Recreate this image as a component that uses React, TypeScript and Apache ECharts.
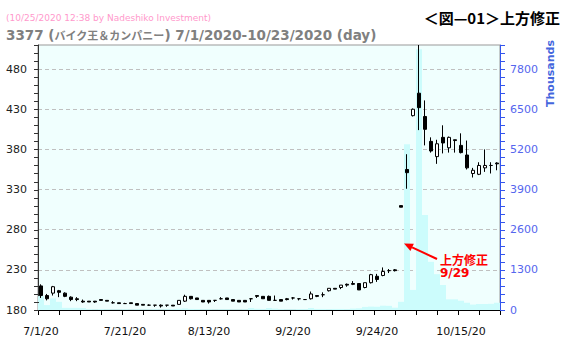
import React, { useEffect, useRef } from 'react';
import * as echarts from 'echarts';

const dates = [
  '7/1/20','7/2/20','7/3/20','7/6/20','7/7/20','7/8/20','7/9/20','7/10/20','7/13/20','7/14/20',
  '7/15/20','7/16/20','7/17/20','7/20/20','7/21/20','7/22/20','7/27/20','7/28/20','7/29/20','7/30/20',
  '7/31/20','8/3/20','8/4/20','8/5/20','8/6/20','8/7/20','8/11/20','8/12/20','8/13/20','8/14/20',
  '8/17/20','8/18/20','8/19/20','8/20/20','8/21/20','8/24/20','8/25/20','8/26/20','8/27/20','8/28/20',
  '8/31/20','9/1/20','9/2/20','9/3/20','9/4/20','9/7/20','9/8/20','9/9/20','9/10/20','9/11/20',
  '9/14/20','9/15/20','9/16/20','9/17/20','9/18/20','9/23/20','9/24/20','9/25/20','9/28/20','9/29/20',
  '9/30/20','10/2/20','10/5/20','10/6/20','10/7/20','10/8/20','10/9/20','10/12/20','10/13/20','10/14/20',
  '10/15/20','10/16/20','10/19/20','10/20/20','10/21/20','10/22/20','10/23/20'
];

const opens = [
  210,198,201,204,201,196,194,191,191,191,
  193,192,189,189,188,189,188,187,186,186,
  186,186,186,187,191,197,195,192,192,192,
  194,195,193,192,192,194,198,197,197,192,
  193,194,195,194,193,194,198,199,204,207,
  208,212,213,213,208,214,222,223,229,230,
  310,355,422,450,421,390,371,395,382,392,
  385,373,350,349,357,360,363
];
const closes = [
  198,194,209,202,197,193,193,190,190,190,
  192,191,189,188,188,188,186,186,186,186,
  185,186,185,192,197,194,193,190,190,192,
  194,193,191,190,190,194,197,194,192,192,
  191,193,195,194,193,200,197,199,207,206,
  211,211,212,205,214,224,218,228,229,229,
  308,351,430,432,405,378,387,388,395,391,
  376,357,354,360,360,360,362
];
const lows = [
  195,192,198,196,196,191,191,189,190,189,
  192,191,188,188,188,188,186,186,185,184,
  183,184,185,187,190,193,193,190,188,190,
  193,193,191,190,190,190,195,194,192,192,
  191,192,193,192,193,193,196,196,203,206,
  206,209,211,205,207,213,215,222,226,228,
  308,331,421,404,385,376,362,375,376,376,
  375,355,345,348,352,350,354
];
const highs = [
  212,200,210,205,202,197,196,193,191,191,
  193,192,191,189,189,189,188,187,187,186,
  187,186,186,192,199,197,195,192,192,192,
  196,195,193,192,192,194,198,197,198,198,
  193,195,196,194,193,203,198,202,207,207,
  211,213,216,213,214,225,225,233,231,231,
  310,374,431,510,441,395,392,410,396,392,
  400,391,357,364,380,364,364
];
// volume in thousands of shares
const volumes = [
  450,160,375,265,70,70,70,65,30,25,
  30,25,20,20,25,20,25,20,20,25,
  20,25,30,40,50,35,30,25,25,20,
  25,25,20,20,25,65,40,30,65,45,
  30,25,25,30,30,65,35,35,30,35,
  35,30,45,55,100,110,105,140,135,75,
  265,5370,650,8440,3075,1560,1160,810,345,345,
  300,235,175,195,195,200,235
];

const PRICE_MIN = 180;
const PRICE_MAX = 510;
const PRICE_TICK = 10;
const PRICE_LABEL_STEP = 50;
const VOL_MAX = 8580;
const VOL_TICK = 260;
const VOL_LABEL_STEP = 1300;
const X_TICK_SLOTS = 3.5;

const W = 566;
const H = 349;
const G_LEFT = 38;
const G_RIGHT = 66;
const G_TOP = 45;
const G_BOTTOM = 39;

const titleText = '3377 (';
const titleName = 'バイク王＆カンパニー';
const titleRest = ') 7/1/2020-10/23/2020 (day)';
const subtitleText = '(10/25/2020 12:38 by Nadeshiko Investment)';
const figureTitle = '＜図—01＞上方修正';
const noteText = '上方修正';
const noteDate = '9/29';

export default function App() {
  const ref = useRef<HTMLDivElement>(null);
  useEffect(() => {
    const chart = echarts.init(ref.current!, null, { renderer: 'svg' });
    const font = "'DejaVu Sans', 'Noto Sans CJK JP', sans-serif";
    const cjk = "'Noto Sans CJK JP', sans-serif";
    const candleData = dates.map((_, i) => [opens[i], closes[i], lows[i], highs[i]]);

    const tip = [404, 243.5];
    const tail = [437, 259];
    const dx = tail[0] - tip[0], dy = tail[1] - tip[1];
    const len = Math.sqrt(dx * dx + dy * dy);
    const ux = dx / len, uy = dy / len;
    const bx = tip[0] + ux * 9, by = tip[1] + uy * 9;
    const nx = -uy, ny = ux;

    // axis tick marks (decoration) from the grid geometry and the axis scales
    const plotW = W - G_LEFT - G_RIGHT;
    const plotH = H - G_TOP - G_BOTTOM;
    const xLeft = G_LEFT;
    const xRight = W - G_RIGHT;
    const yBottom = H - G_BOTTOM;
    const band = plotW / dates.length;
    const priceToY = (v: number) => yBottom - ((v - PRICE_MIN) / (PRICE_MAX - PRICE_MIN)) * plotH;
    const volToY = (v: number) => yBottom - (v / VOL_MAX) * plotH;
    const ticks: any[] = [];
    for (let s = 0; s <= dates.length + 1e-9; s += X_TICK_SLOTS) {
      const px = Math.round(xLeft + s * band);
      ticks.push({
        type: 'rect', z: 20,
        shape: { x: px, y: yBottom, width: 1, height: 5 },
        style: { fill: '#000000' },
      });
    }
    for (let v = PRICE_MIN; v <= PRICE_MAX; v += PRICE_TICK) {
      const py = Math.round(priceToY(v));
      ticks.push({
        type: 'rect', z: 20,
        shape: { x: xLeft - 4, y: py, width: 5, height: 1 },
        style: { fill: '#333333' },
      });
    }
    for (let v = 0; v <= VOL_MAX; v += VOL_TICK) {
      const py = Math.round(volToY(v));
      ticks.push({
        type: 'rect', z: 20,
        shape: { x: xRight, y: py, width: 5, height: 1 },
        style: { fill: '#3355ee' },
      });
    }

    const graphics: any[] = [
      {
        type: 'text', x: 6, y: 17.5,
        style: { text: subtitleText, fill: '#ff99cc', fontSize: 9, fontFamily: font, verticalAlign: 'middle', align: 'left' },
      },
      {
        type: 'text', x: 6, y: 35,
        style: {
          text: `{a|${titleText}}{b|${titleName}}{a|${titleRest}}`,
          verticalAlign: 'middle', align: 'left',
          rich: {
            a: { fill: '#808080', fontSize: 13.5, fontWeight: 'bold', fontFamily: font },
            b: { fill: '#808080', fontSize: 11, fontWeight: 'bold', fontFamily: cjk },
          },
        },
      },
      {
        type: 'text', x: 560, y: 17.5,
        style: { text: figureTitle, fill: '#000000', fontSize: 15, fontWeight: 'bold', fontFamily: cjk, verticalAlign: 'middle', align: 'right' },
      },
      {
        type: 'text', x: 550, y: 107, rotation: Math.PI / 2,
        style: { text: 'Thousands', fill: '#4466dd', fontSize: 11, fontWeight: 'bold', fontFamily: font, verticalAlign: 'middle', align: 'left' },
      },
      {
        type: 'line', z: 10,
        shape: { x1: tail[0], y1: tail[1], x2: bx, y2: by },
        style: { stroke: '#ff0000', lineWidth: 2 },
      },
      {
        type: 'polygon', z: 10,
        shape: { points: [[tip[0], tip[1]], [bx + nx * 4, by + ny * 4], [bx - nx * 4, by - ny * 4]] },
        style: { fill: '#ff0000' },
      },
      {
        type: 'text', x: 440, y: 259, z: 10,
        style: { text: noteText, fill: '#ff0000', fontSize: 12, fontWeight: 'bold', fontFamily: cjk, verticalAlign: 'middle', align: 'left' },
      },
      {
        type: 'text', x: 440, y: 273, z: 10,
        style: { text: noteDate, fill: '#ff0000', fontSize: 12, fontWeight: 'bold', fontFamily: font, verticalAlign: 'middle', align: 'left' },
      },
      ...ticks,
    ];

    chart.setOption({
      animation: false,
      backgroundColor: '#ffffff',
      grid: {
        left: G_LEFT, right: G_RIGHT, top: G_TOP, bottom: G_BOTTOM,
        show: true, backgroundColor: '#f0fffe', borderColor: '#999999', borderWidth: 1,
      },
      xAxis: {
        type: 'category',
        data: dates,
        boundaryGap: true,
        axisLine: { show: true, lineStyle: { color: '#000000', width: 1 } },
        axisTick: { show: false },
        axisLabel: {
          interval: 13, margin: 16, color: '#111111', fontSize: 11, fontFamily: font,
        },
        splitLine: { show: false },
      },
      yAxis: [
        {
          type: 'value',
          min: PRICE_MIN, max: PRICE_MAX, interval: PRICE_TICK,
          position: 'left',
          axisLine: { show: true, lineStyle: { color: '#333333' } },
          axisTick: { show: false },
          axisLabel: {
            margin: 11, color: '#222222', fontSize: 11, fontFamily: font,
            formatter: (v: number) => ((v - PRICE_MIN) % PRICE_LABEL_STEP === 0 ? String(v) : ''),
          },
          splitLine: {
            show: true,
            lineStyle: {
              color: ['#c0c0c0', 'rgba(0,0,0,0)', 'rgba(0,0,0,0)', 'rgba(0,0,0,0)', 'rgba(0,0,0,0)'],
              type: [4, 3], width: 1,
            },
          },
        },
        {
          type: 'value',
          min: 0, max: VOL_MAX, interval: VOL_TICK,
          position: 'right',
          axisLine: { show: true, lineStyle: { color: '#3355ee' } },
          axisTick: { show: false },
          axisLabel: {
            margin: 10, color: '#5566ee', fontSize: 11, fontFamily: font,
            formatter: (v: number) => (v % VOL_LABEL_STEP === 0 ? String(v) : ''),
          },
          splitLine: { show: false },
        },
      ],
      series: [
        {
          type: 'bar',
          xAxisIndex: 0, yAxisIndex: 1,
          data: volumes,
          barCategoryGap: '0%',
          itemStyle: { color: '#ccfcfc' },
          z: 1,
        },
        {
          type: 'candlestick',
          xAxisIndex: 0, yAxisIndex: 0,
          data: candleData,
          barWidth: 3,
          itemStyle: {
            color: '#ffffff', color0: '#000000',
            borderColor: '#000000', borderColor0: '#000000', borderWidth: 1,
          },
          z: 3,
        },
      ],
      graphic: graphics,
    });

    return () => chart.dispose();
  }, []);
  return <div ref={ref} style={{ position: 'absolute', left: 0, top: 0, width: W, height: H }} />;
}
